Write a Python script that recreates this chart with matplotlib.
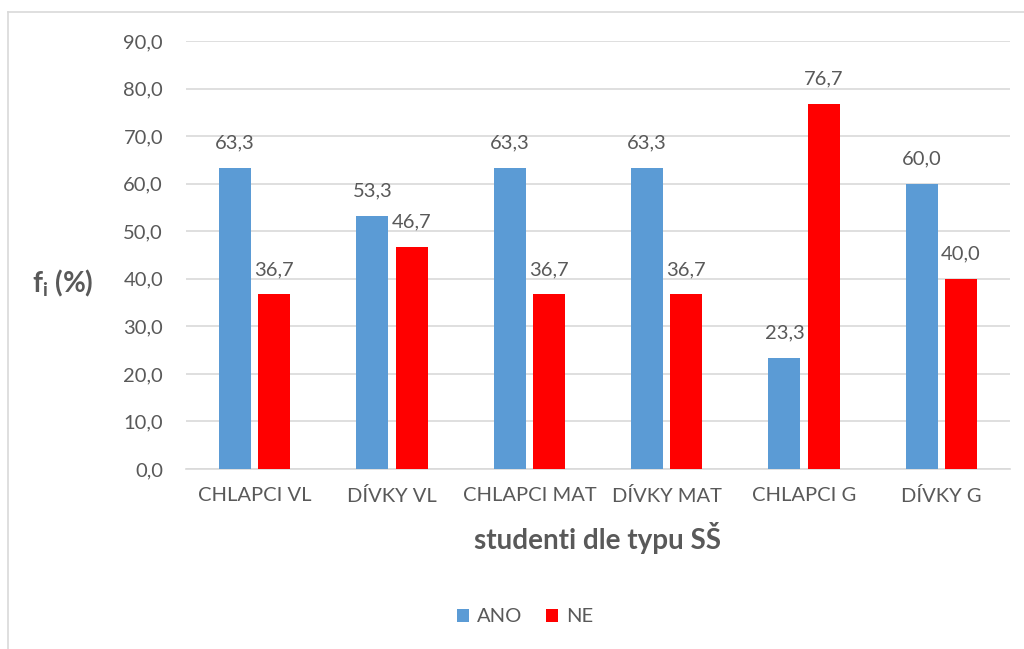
import numpy as np
import matplotlib.pyplot as plt
from matplotlib.lines import Line2D

categories = ["CHLAPCI VL", "DÍVKY VL", "CHLAPCI MAT", "DÍVKY MAT", "CHLAPCI G", "DÍVKY G"]
ano = [63.3, 53.3, 63.3, 63.3, 23.3, 60.0]
ne = [36.7, 46.7, 36.7, 36.7, 76.7, 40.0]
yticks = [0, 10, 20, 30, 40, 50, 60, 70, 80, 90]

TXT = "#595959"
plt.rcParams["font.family"] = ["Lato", "DejaVu Sans"]
plt.rcParams["mathtext.fontset"] = "custom"
plt.rcParams["mathtext.bf"] = "Lato:bold"
plt.rcParams["mathtext.rm"] = "Lato"

fig = plt.figure(figsize=(10.24, 6.49), dpi=100)
ax = fig.add_axes([186 / 1024, 1 - 469 / 649, (1010 - 186) / 1024, (469 - 41) / 649])

x = np.arange(len(categories))
w = 0.233
off = 0.142
b1 = ax.bar(x - off, ano, w, color="#5B9BD5", label="ANO", zorder=3)
b2 = ax.bar(x + off, ne, w, color="#FF0000", label="NE", zorder=3)

for bars, vals in ((b1, ano), (b2, ne)):
    for r, v in zip(bars, vals):
        ax.annotate(f"{v:.1f}".replace(".", ","), (r.get_x() + r.get_width() / 2, v),
                    xytext=(0, 18), textcoords="offset points", ha="center", va="center",
                    fontsize=14.5, color=TXT)

ax.set_xlim(-0.5, len(categories) - 0.5)
ax.set_ylim(0, 90)
ax.set_yticks(yticks)
ax.set_yticklabels([f"{t:.1f}".replace(".", ",") for t in yticks])
ax.set_xticks(x)
ax.set_xticklabels(categories)
ax.tick_params(axis="both", length=0, labelsize=14.5, colors=TXT)
ax.tick_params(axis="y", pad=16.5)
ax.tick_params(axis="x", pad=13)
ax.grid(axis="y", color="#D9D9D9", lw=1.2, zorder=0)
for s in ("top", "right", "left"):
    ax.spines[s].set_visible(False)
ax.spines["bottom"].set_color("#D9D9D9")
ax.spines["bottom"].set_linewidth(1.2)

ax.set_xlabel("studenti dle typu SŠ", fontsize=20, fontweight="bold", color=TXT, labelpad=12)
fig.text(63 / 1024, 1 - 283 / 649, r"$\mathbf{f_i}$" + " (%)", fontsize=20, fontweight="bold",
         color=TXT, ha="center", va="center")

fig.legend(handles=[b1, b2], loc="center", bbox_to_anchor=(525 / 1024, 1 - 617 / 649),
           ncol=2, frameon=False, fontsize=14.5, labelcolor=TXT, handlelength=0.6,
           handleheight=0.6, columnspacing=1.2, handletextpad=0.4)

# chart frame (left and top edges visible)
fig.add_artist(Line2D([8 / 1024, 8 / 1024], [0, 1 - 12 / 649], color="#D9D9D9", lw=1.2,
                      transform=fig.transFigure))
fig.add_artist(Line2D([8 / 1024, 1], [1 - 12 / 649, 1 - 12 / 649], color="#D9D9D9", lw=1.2,
                      transform=fig.transFigure))

fig.savefig("out.png", dpi=100)
